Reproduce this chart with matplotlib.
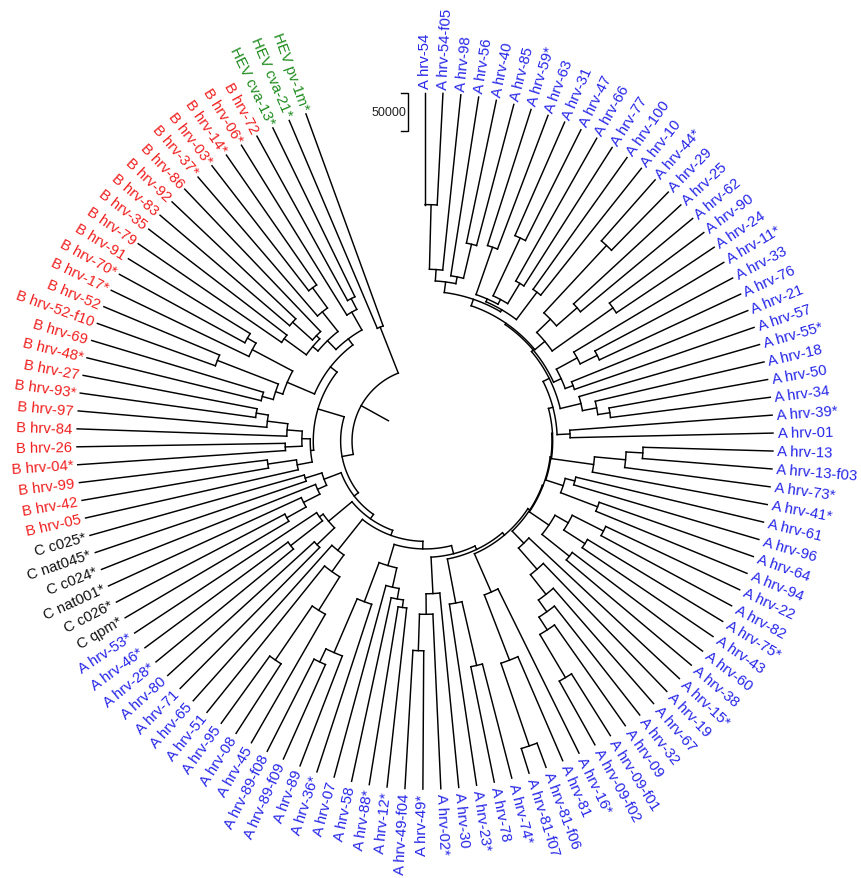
import numpy as np
import matplotlib
matplotlib.use("Agg")
import matplotlib.pyplot as plt
from matplotlib.collections import LineCollection

# ---------------------------------------------------------------- leaves
LABELS_A = [
    "A hrv-54", "A hrv-54-f05", "A hrv-98", "A hrv-56", "A hrv-40", "A hrv-85",
    "A hrv-59*", "A hrv-63", "A hrv-31", "A hrv-47", "A hrv-66", "A hrv-77",
    "A hrv-100", "A hrv-10", "A hrv-44*", "A hrv-29", "A hrv-25", "A hrv-62",
    "A hrv-90", "A hrv-24", "A hrv-11*", "A hrv-33", "A hrv-76", "A hrv-21",
    "A hrv-57", "A hrv-55*", "A hrv-18", "A hrv-50", "A hrv-34", "A hrv-39*",
    "A hrv-01", "A hrv-13", "A hrv-13-f03", "A hrv-73*", "A hrv-41*", "A hrv-61",
    "A hrv-96", "A hrv-64", "A hrv-94", "A hrv-22", "A hrv-82", "A hrv-75*",
    "A hrv-43", "A hrv-60", "A hrv-38", "A hrv-15*", "A hrv-19", "A hrv-67",
    "A hrv-32", "A hrv-09", "A hrv-09-f01", "A hrv-09-f02", "A hrv-16*", "A hrv-81",
    "A hrv-81-f06", "A hrv-81-f07", "A hrv-74*", "A hrv-78", "A hrv-23*", "A hrv-30",
    "A hrv-02*", "A hrv-49*", "A hrv-49-f04", "A hrv-12*", "A hrv-88*", "A hrv-58",
    "A hrv-07", "A hrv-36*", "A hrv-89", "A hrv-89-f09", "A hrv-89-f08", "A hrv-45",
    "A hrv-08", "A hrv-95", "A hrv-51", "A hrv-65", "A hrv-71", "A hrv-80",
    "A hrv-28*", "A hrv-46*", "A hrv-53*",
]
LABELS_C = ["C qpm*", "C c026*", "C nat001*", "C c024*", "C nat045*", "C c025*"]
LABELS_B = [
    "B hrv-05", "B hrv-42", "B hrv-99", "B hrv-04*", "B hrv-26", "B hrv-84",
    "B hrv-97", "B hrv-93*", "B hrv-27", "B hrv-48*", "B hrv-69", "B hrv-52-f10",
    "B hrv-52", "B hrv-17*", "B hrv-70*", "B hrv-91", "B hrv-79", "B hrv-35",
    "B hrv-83", "B hrv-92", "B hrv-86", "B hrv-37*", "B hrv-03*", "B hrv-14*",
    "B hrv-06*", "B hrv-72",
]
LABELS_HEV = ["HEV cva-13*", "HEV cva-21*", "HEV pv-1m*"]

GROUP_COLORS = {"A": "#2626e8", "C": "#111111", "B": "#f02020", "HEV": "#1e8c1e"}

# ------------------------------------------------------------- topology
# Leaf numbers index the concatenated leaf list (A, C, B, HEV);
# the number after each ")" is the merge height in thousands.
A_SUBCLADES = [
    "(((0,1)147,2)232,(3,(4,5)192)238)247",
    "(((6,7)188,((8,9)163,(10,11)216)247)254,(12,13)213)258",
    "(((14,15)107,(16,17)192)228,(18,19)155)253",
    "((20,(21,22)205)230,(23,24)250)261",
    "(25,(26,(27,28)212)228)247",
    "(29,30)267",
    "(((31,32)171,33)193,34)234",
    "((35,36)254,(37,38)215)267",
    "(((39,40)195,(41,42)208)241,(43,44)215)261",
    "(45,(46,(47,(48,(49,(50,51)96)162)182)201)234)271",
    "(52,(53,(54,55)34)149)241",
    "((56,57)155,58)241",
    "(59,(60,(61,62)182)230)257",
    "((((63,64)237,65)247,66)261,(67,(68,(69,70)136)155)232)287",
    "(((71,(72,73)109)195,74)247,75)274",
    "((76,77)261,((78,79)234,80)287)293",
]
A_JOIN_HEIGHTS = [261, 270, 272, 275, 284, 290, 291, 292, 293, 296, 300, 305, 316, 326, 333]

C_CLADE = "((((81,82)250,83)279,84)303,(85,86)293)316"
AC_HEIGHT = 340

B_LOW = "((87,(88,89)249)287,((90,91)274,(92,(93,(94,95)233)249)276)296)307"
B_MID = "(((96,97)236,(98,99)165)251,(100,(101,102)188)201)261"
B_TOP = "((((103,104)229,((105,106)224,107)259)265,(108,(109,110)208)241)274,(111,(112,113)247)263)290"
B_UP_HEIGHT = 300
B_HEIGHT = 311
ABC_HEIGHT = 347

HEV_CLADE = "(114,115)297"
ROOT_HEIGHT = 362
ROOT_EDGE = 41

SCALE_BAR = 50000
HEIGHT_UNIT = 1000

# ------------------------------------------------------------ layout constants
TIP_R = 458.0            # radius of the leaf tips (thousands)
R_MAX = 552.6            # radial extent of the polar axes (thousands)
ARC_SPAN_DEG = 340.0     # leaves are spread over this much of the circle
LABEL_GAP = 6.0
FONT = "Liberation Sans"
LABEL_SIZE = 10.7


def parse(text):
    s = text.replace(" ", "")
    pos = 0

    def node():
        nonlocal pos
        if s[pos] == "(":
            pos += 1
            kids = [node()]
            while s[pos] == ",":
                pos += 1
                kids.append(node())
            pos += 1  # ")"
            j = pos
            while j < len(s) and (s[j].isdigit() or s[j] == "."):
                j += 1
            h = float(s[pos:j])
            pos = j
            return {"kids": kids, "h": h}
        j = pos
        while j < len(s) and s[j].isdigit():
            j += 1
        leaf = int(s[pos:j])
        pos = j
        return leaf

    return node()


def join(a, b, h):
    return {"kids": [a, b], "h": float(h)}


# assemble the full tree
a_tree = parse(A_SUBCLADES[0])
for sub, h in zip(A_SUBCLADES[1:], A_JOIN_HEIGHTS):
    a_tree = join(a_tree, parse(sub), h)
ac_tree = join(a_tree, parse(C_CLADE), AC_HEIGHT)
b_tree = join(parse(B_LOW), join(parse(B_MID), parse(B_TOP), B_UP_HEIGHT), B_HEIGHT)
abc_tree = join(ac_tree, b_tree, ABC_HEIGHT)
root = join(abc_tree, parse(HEV_CLADE), ROOT_HEIGHT)

labels = LABELS_A + LABELS_C + LABELS_B + LABELS_HEV
groups = (["A"] * len(LABELS_A) + ["C"] * len(LABELS_C)
          + ["B"] * len(LABELS_B) + ["HEV"] * len(LABELS_HEV))
n_leaves = len(labels)
step = np.deg2rad(ARC_SPAN_DEG) / (n_leaves - 1)
leaf_theta = np.arange(n_leaves) * step

segments = []


def layout(node):
    """Return (theta, radius) of node and add its branches to segments."""
    if isinstance(node, int):
        return leaf_theta[node], TIP_R
    r = TIP_R - node["h"]
    kids = [layout(k) for k in node["kids"]]
    thetas = [t for t, _ in kids]
    t0, t1 = min(thetas), max(thetas)
    n_pts = max(2, int(np.degrees(t1 - t0) * 2) + 2)
    arc_t = np.linspace(t0, t1, n_pts)
    segments.append(np.column_stack([arc_t, np.full(n_pts, r)]))
    for t, rc in kids:
        segments.append(np.array([[t, r], [t, rc]]))
    return 0.5 * (t0 + t1), r


root_theta, root_r = layout(root)
segments.append(np.array([[root_theta, root_r], [root_theta, root_r - ROOT_EDGE]]))

# ---------------------------------------------------------------- figure
W, H = 861, 879
CX, CY = 425, 442          # centre of the tree in pixels from top-left
R_PX = 420                  # half size of the polar axes in pixels

fig = plt.figure(figsize=(W / 100, H / 100), dpi=100)
ax = fig.add_axes([(CX - R_PX) / W, (H - CY - R_PX) / H, 2 * R_PX / W, 2 * R_PX / H],
                  projection="polar")
ax.set_theta_zero_location("N")
ax.set_theta_direction(-1)
ax.set_ylim(0, R_MAX)
ax.axis("off")

lc = LineCollection(segments, colors="black", linewidths=1.05, capstyle="projecting",
                    joinstyle="miter")
ax.add_collection(lc)

for i, (lab, grp) in enumerate(zip(labels, groups)):
    th = leaf_theta[i]
    deg = np.degrees(th)
    if deg < 180:
        rot, ha = 90 - deg, "left"
    else:
        rot, ha = 270 - deg, "right"
    ax.text(th, TIP_R + LABEL_GAP, lab, rotation=rot, rotation_mode="anchor",
            ha=ha, va="center", fontsize=LABEL_SIZE, family=FONT,
            color=GROUP_COLORS[grp])

# scale bar, sized from the radial scale of the tree axes
px_per_unit = R_PX / (R_MAX * HEIGHT_UNIT)
bar_len = SCALE_BAR * px_per_unit
over = fig.add_axes([0, 0, 1, 1])
over.set_xlim(0, W)
over.set_ylim(H, 0)
over.axis("off")
bx, by = 408, 94
over.plot([bx - 7, bx, bx, bx - 7], [by, by, by + bar_len, by + bar_len],
          color="black", lw=1.0, solid_joinstyle="miter")
over.text(bx - 2, by + bar_len / 2, f"{SCALE_BAR}", ha="right", va="center",
          fontsize=9, family=FONT, color="#222222")

fig.savefig("out.png", dpi=100)
